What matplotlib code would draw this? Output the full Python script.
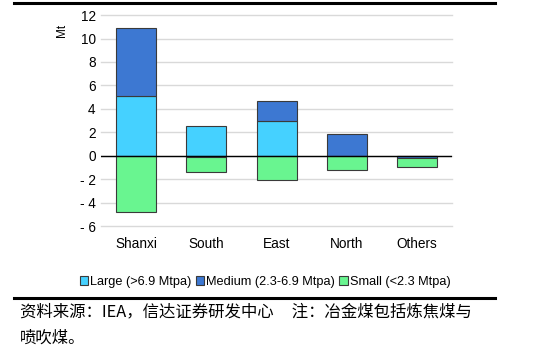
import numpy as np
import matplotlib
matplotlib.use("Agg")
import matplotlib.pyplot as plt
from matplotlib.patches import Patch
from matplotlib.lines import Line2D

plt.rcParams['font.family'] = ['Liberation Sans', 'Noto Sans CJK SC', 'DejaVu Sans']

# Coal mine capacity change by region (Mt)
regions = ["Shanxi", "South", "East", "North", "Others"]
large = [5.1, 2.5, 3.0, 0.0, 0.0]
medium = [5.8, -0.1, 1.7, 1.9, -0.18]
small = [-4.8, -1.3, -2.1, -1.2, -0.8]
series_names = ["Large (>6.9 Mtpa)", "Medium (2.3-6.9 Mtpa)", "Small (<2.3 Mtpa)"]
yticks = [-6, -4, -2, 0, 2, 4, 6, 8, 10, 12]

colors = ["#45D1FF", "#3D78D2", "#69F590"]

fig = plt.figure(figsize=(5.5, 3.59), dpi=100)
ax = fig.add_axes([0.184, 0.370, 0.638, 0.588])

x = np.arange(len(regions))
pos_base = np.zeros(len(regions))
neg_base = np.zeros(len(regions))
for vals, c in zip([large, medium, small], colors):
    vals = np.array(vals)
    base = np.where(vals >= 0, pos_base, neg_base)
    ax.bar(x, vals, 0.57, bottom=base, color=c, edgecolor="#3a3a3a",
           linewidth=0.8, zorder=3)
    pos_base += np.where(vals >= 0, vals, 0)
    neg_base += np.where(vals < 0, vals, 0)

ax.axhline(0, color="black", linewidth=1.0, zorder=4)
ax.set_xlim(-0.5, 4.5)
ax.set_ylim(-6, 12)
ax.set_yticks(yticks)
ax.set_yticklabels([("- %d" % -v) if v < 0 else str(v) for v in yticks], fontsize=9.8)
ax.set_xticks(x)
ax.set_xticklabels(regions, fontsize=9.8)
ax.tick_params(length=0, pad=4)
ax.tick_params(axis="x", pad=8)
ax.grid(axis="y", color="#d9d9d9", linewidth=1.0, zorder=0)
for gl in ax.get_ygridlines():
    gl.set_clip_on(False)
for s in ax.spines.values():
    s.set_visible(False)

fig.text(0.112, 0.915, "Mt", rotation=90, fontsize=8.5, ha="center", va="center")

handles = [Patch(facecolor=c, edgecolor="#3a3a3a", linewidth=0.8) for c in colors]
fig.legend(handles, series_names, loc="center", bbox_to_anchor=(0.482, 0.215),
           ncol=3, frameon=False, fontsize=9.2, handlelength=0.65, handleheight=0.65,
           handletextpad=0.15, columnspacing=0.35)

# top and bottom rules
fig.add_artist(Line2D([0.025, 0.9], [0.993, 0.993], color="black", linewidth=2.2))
fig.add_artist(Line2D([0.025, 0.9], [0.17, 0.17], color="black", linewidth=2.2))

fig.text(0.037, 0.131, "资料来源：IEA，信达证券研发中心     注：冶金煤包括炼焦煤与",
         fontsize=11.8, ha="left", va="center", style="italic",
         family=['Noto Sans CJK SC', 'DejaVu Sans'])
fig.text(0.037, 0.059, "喷吹煤。", fontsize=11.8, ha="left", va="center",
         family=['Noto Sans CJK SC', 'DejaVu Sans'])

fig.savefig("out.png", dpi=100)
